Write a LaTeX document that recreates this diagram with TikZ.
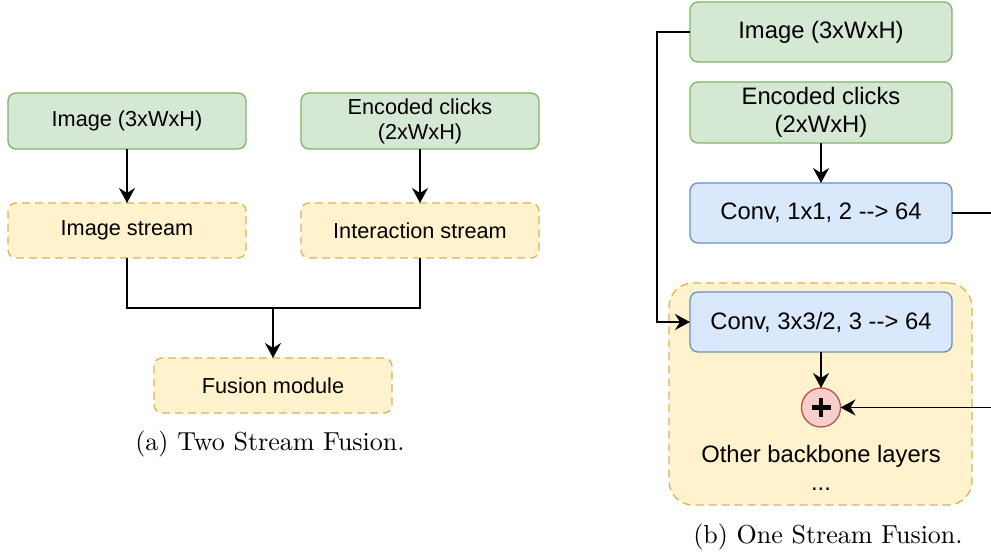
\documentclass[tikz,border=0pt]{standalone}
\usepackage{fontspec}
\newfontfamily\drawiofont[Ligatures=TeXOff]{Liberation Sans}
\newfontfamily\captionfont{lmroman10-regular.otf}
\usepackage{tikz}
\usetikzlibrary{positioning,arrows.meta}

\definecolor{inputfill}{HTML}{D5E8D4}
\definecolor{inputline}{HTML}{82B366}
\definecolor{streamfill}{HTML}{FFF2CC}
\definecolor{streamline}{HTML}{D6B656}
\definecolor{convfill}{HTML}{DAE8FC}
\definecolor{convline}{HTML}{6C8EBF}
\definecolor{addfill}{HTML}{F8CECC}
\definecolor{addline}{HTML}{B85450}

\tikzset{
  input box/.style 2 args={draw=inputline, fill=inputfill, line width=1.3pt, rounded corners=8pt, outer sep=0pt,
    minimum width=#1pt, minimum height=#2pt, inner sep=0pt, align=center},
  stream box/.style 2 args={draw=streamline, fill=streamfill, line width=1.3pt, rounded corners=8pt, outer sep=0pt,
    dash pattern=on 8pt off 5pt, minimum width=#1pt, minimum height=#2pt, inner sep=0pt, align=center},
  conv box/.style 2 args={draw=convline, fill=convfill, line width=1.3pt, rounded corners=8pt, outer sep=0pt,
    minimum width=#1pt, minimum height=#2pt, inner sep=0pt, align=center},
  add node/.style={circle, draw=addline, fill=addfill, line width=1.3pt, minimum size=39pt, inner sep=0pt, outer sep=0pt,
    path picture={
        \draw[black, line width=4.8pt] ([xshift=-9.5pt]path picture bounding box.center) -- ([xshift=9.5pt]path picture bounding box.center);
        \draw[black, line width=4.8pt] ([yshift=-9.5pt]path picture bounding box.center) -- ([yshift=9.5pt]path picture bounding box.center);
    }},
  left text/.style={font=\drawiofont\fontsize{21.7}{25}\selectfont},
  right text/.style={font=\drawiofont\fontsize{23.8}{27.5}\selectfont},
  caption/.style={font=\captionfont\fontsize{26}{30}\selectfont, inner sep=0pt},
  link/.style={line width=1.8pt, -{Stealth[length=15pt, width=16pt, inset=5pt]}},
  wire/.style={line width=1.8pt}
}

\begin{document}
\begin{tikzpicture}[x=1pt, y=-1pt]
            \useasboundingbox (0,0) rectangle (991,553);

            % Two stream
            \draw node[input box={238}{56}, left text] (imageA) at (127,121) {Image (3xWxH)};
            \draw node[input box={238}{56}, left text, right = 55pt of imageA] (clicksA) {Encoded clicks\\(2xWxH)};
            \draw node[stream box={238}{55}, left text, below = 54pt of imageA] (imageStream) {Image stream};
            \draw node[stream box={238}{55}, left text, below = 54pt of clicksA] (clicksStream) {Interaction stream};
            \draw node[stream box={238}{55}, left text] (fusionA) at (273,385.5) {Fusion module};
            \coordinate (joinA) at (273,308);

            \draw [link] (imageA) -- (imageStream);
            \draw [link] (clicksA) -- (clicksStream);
            \draw [wire] (imageStream.south) |- (joinA) -| (clicksStream.south);
            \draw [link] (joinA) -- (fusionA);
            \draw node[caption] (captionA) at (270,444) {(a) Two Stream Fusion.};

            % One stream
            \draw node[stream box={303}{222}, rounded corners=24pt] (backbone) at (820.5,394) {};
            \draw node[input box={262}{60}, right text] (imageB) at (821,32) {Image (3xWxH)};
            \draw node[input box={262}{61}, right text, below = 20pt of imageB] (clicksB) {Encoded clicks\\(2xWxH)};
            \draw node[conv box={262}{60}, right text, below = 40pt of clicksB] (convA) {Conv, 1x1, 2 --> 64};
            \draw node[conv box={262}{60}, right text, below = 49pt of convA] (convB) {Conv, 3x3/2, 3 --> 64};
            \draw node[add node, below = 36pt of convB] (plus) {};
            \draw node[right text, align=center, inner sep=0pt] (others) at (821,468) {Other backbone layers\\...};
            \coordinate (busL) at (657,32);
            \coordinate (busR) at (1010,300);

            \draw [link] (clicksB) -- (convA);
            \draw [link] (imageB.west) -- (busL) |- (convB.west);
            \draw [link] (convB) -- (plus);
            \draw [link] (convA.east) -| (busR) |- (plus.east);
            \draw node[caption] (captionB) at (828,537) {(b) One Stream Fusion.};

\end{tikzpicture}
\end{document}
